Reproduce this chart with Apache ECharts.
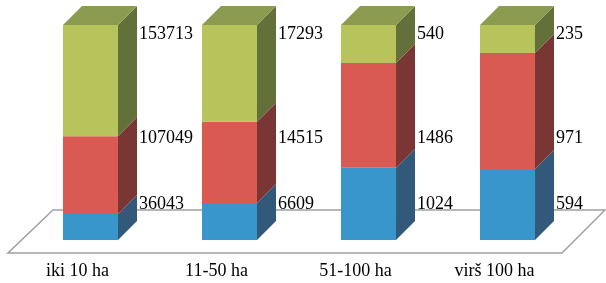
<!DOCTYPE html>
<html>
<head>
<meta charset="utf-8">
<script src="https://cdn.jsdelivr.net/npm/echarts@6/dist/echarts.min.js"></script>
<style>
html, body { margin: 0; padding: 0; background: #fff; }
#chart { width: 606px; height: 283px; }
</style>
</head>
<body>
<div id="chart"></div>
<script>
const categories = ['iki 10 ha', '11-50 ha', '51-100 ha', 'virš 100 ha'];
const blueValues = [36043, 6609, 1024, 594];
const redValues = [107049, 14515, 1486, 971];
const greenValues = [153713, 17293, 540, 235];

// front / side / top colours for each stack level
const palette = [
	{ front: '#3896cb', side: '#33597a', top: '#2f6f99' },
	{ front: '#d95953', side: '#7a3535', top: '#a84440' },
	{ front: '#b6c45b', side: '#63703a', top: '#8b9b50' },
];
const depth = 19; // 3d offset in px
const labelLevels = [16.7, 47.4, 95.8]; // excel puts labels at fixed heights
const font = 'Liberation Serif, Times New Roman, serif';

const seriesValues = [blueValues, redValues, greenValues];
const totals = categories.map((c, i) => blueValues[i] + redValues[i] + greenValues[i]);

// build [cat, start%, end%, raw] for every segment
const stacked = seriesValues.map(() => []);
categories.forEach((c, i) => {
	let acc = 0;
	seriesValues.forEach((vals, s) => {
		const pct = (vals[i] / totals[i]) * 100;
		stacked[s].push([i, acc, acc + pct, vals[i]]);
		acc += pct;
	});
});

const makeRender = (s) => (params, api) => {
	const cat = api.value(0);
	const base = api.coord([cat, api.value(1)]);
	const top = api.coord([cat, api.value(2)]);
	const w = api.size([1, 0])[0] * 0.396;
	const x0 = base[0] - w / 2;
	const x1 = x0 + w;
	const c = palette[s];
	const children = [
		{
			type: 'rect',
			shape: { x: x0, y: top[1], width: w, height: base[1] - top[1] },
			style: { fill: c.front },
		},
		{
			type: 'polygon',
			shape: { points: [[x1, top[1]], [x1 + depth, top[1] - depth], [x1 + depth, base[1] - depth], [x1, base[1]]] },
			style: { fill: c.side },
		},
	];
	if (s === seriesValues.length - 1) {
		children.push({
			type: 'polygon',
			shape: { points: [[x0, top[1]], [x0 + depth, top[1] - depth], [x1 + depth, top[1] - depth], [x1, top[1]]] },
			style: { fill: c.top },
		});
	}
	const ly = api.coord([cat, labelLevels[s]])[1];
	children.push({
		type: 'text',
		z2: 10,
		style: {
			x: x1 + depth + 2,
			y: ly,
			text: String(api.value(3)),
			fill: '#000',
			font: '18px ' + font,
			verticalAlign: 'middle',
			align: 'left',
		},
	});
	return { type: 'group', children: children };
};

const chart = echarts.init(document.getElementById('chart'), null, { renderer: 'canvas' });
const option = {
	animation: false,
	grid: { left: 21, right: 29, top: 25, bottom: 43 },
	xAxis: {
		type: 'category',
		data: categories,
		axisLine: { show: false },
		axisTick: { show: false },
		// labels sit under the floor edge, a bit left of the bars
		axisLabel: { color: '#000', fontSize: 18, fontFamily: font, margin: 22, padding: [0, 26, 0, 0] },
	},
	yAxis: { type: 'value', min: 0, max: 100, show: false },
	graphic: [
		{
			type: 'polygon',
			z: 0,
			shape: { points: [[8, 253], [562, 253], [605, 210], [53, 210]] },
			style: { fill: 'none', stroke: '#a0a0a0', lineWidth: 1.5 },
		},
	],
	series: stacked.map((d, s) => ({
		type: 'custom',
		z: 2 + s,
		renderItem: makeRender(s),
		encode: { x: 0, y: [1, 2] },
		data: d,
	})),
};
chart.setOption(option);
</script>
</body>
</html>
